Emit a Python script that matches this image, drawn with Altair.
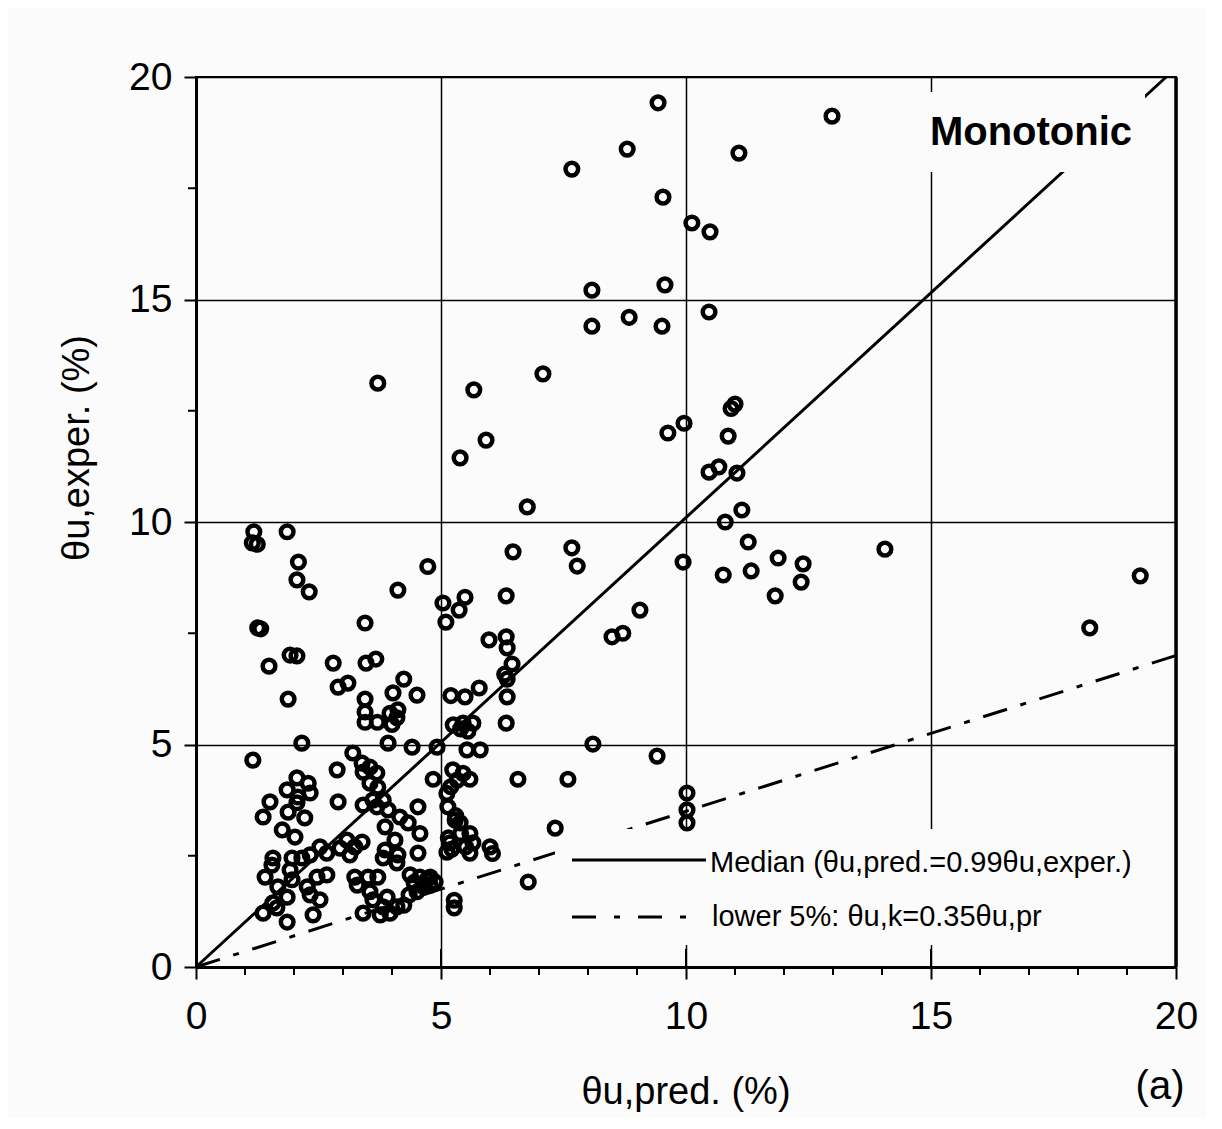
import altair as alt
import pandas as pd

# ---- data (theta_u,pred , theta_u,exper in %) ----
pred = [
    9.43, 12.98, 8.80, 7.67, 11.08, 9.53, 10.12, 10.49, 8.08, 9.57, 8.08, 8.84, 9.51, 10.47, 7.08,
    10.92, 11.00, 9.96, 9.63, 10.86, 10.47, 10.67, 11.04, 3.71, 5.67, 5.92, 5.39, 6.76,
    11.14, 10.80, 11.27, 9.94, 14.06, 11.88, 12.39, 10.76, 11.33, 12.35, 11.82, 19.27, 18.24,
    7.67, 7.78, 6.47, 6.33, 9.06, 8.49, 8.71, 8.10, 9.41, 10.02, 10.02, 10.02, 6.57, 7.59, 7.33, 6.78,
    1.18, 1.15, 1.25, 1.86, 2.09, 2.06, 2.31, 4.73, 4.12, 5.04, 5.49, 5.37, 5.10, 1.26, 1.32, 3.45,
    1.92, 2.06, 1.49, 2.80, 3.47, 3.67, 2.90, 3.10, 1.88, 4.24, 4.02, 4.51, 3.45, 3.45, 3.45, 3.70,
    3.96, 4.10, 4.12, 4.00, 2.16, 3.92, 4.41, 4.92,
    5.20, 5.49, 5.78, 5.98, 6.33, 6.35, 6.45, 6.35, 6.30, 6.35, 6.33, 5.25, 5.45, 5.65, 5.40, 5.55,
    5.53, 5.80,
    4.84, 5.59, 5.24, 5.33, 5.12, 5.45, 5.20, 5.14, 5.29, 5.39, 5.59, 5.65, 5.18, 5.12, 5.59, 6.00,
    6.05, 5.30, 5.40, 5.15, 5.50, 5.22, 4.53, 4.57, 4.53, 4.33, 4.57, 4.78, 5.27, 5.27,
    1.16, 3.20, 3.39, 3.55, 3.69, 3.41, 2.88, 2.06, 2.29, 1.86, 2.33, 2.08, 2.06, 1.51, 1.37, 1.88,
    2.22, 1.76, 2.02, 2.90, 3.41, 3.61, 3.82, 3.92, 3.69, 3.55, 3.71, 3.86, 4.16, 4.06, 3.86, 4.12,
    3.82, 4.10, 3.08, 3.24, 3.39, 2.94, 3.14, 2.53, 2.67, 2.33, 2.16, 1.96, 1.57, 1.55, 1.41, 1.92,
    1.96, 1.67, 1.86, 2.27, 2.33, 2.53, 2.47, 2.67, 1.65, 1.37, 1.57, 1.86, 2.39, 3.24, 3.51, 3.71,
    3.29, 3.55, 3.41, 3.61, 3.90, 3.96, 4.10, 3.82, 3.76, 4.35, 4.51, 4.45, 4.71, 4.65, 4.24, 4.37,
    4.78, 4.88,
]
exper = [
    19.42, 19.12, 18.38, 17.93, 18.29, 17.30, 16.72, 16.52, 15.21, 15.33, 14.40, 14.60, 14.40, 14.72, 13.33,
    12.55, 12.65, 12.22, 12.00, 11.93, 11.12, 11.24, 11.10, 13.12, 12.97, 11.84, 11.44, 10.34,
    10.27, 10.00, 9.55, 9.10, 9.39, 9.19, 9.06, 8.81, 8.90, 8.65, 8.34, 8.79, 7.62,
    9.42, 9.01, 9.33, 8.34, 8.02, 7.42, 7.50, 5.01, 4.74, 3.91, 3.53, 3.24, 4.22, 4.22, 3.12, 1.91,
    9.78, 9.53, 9.50, 9.78, 9.10, 8.70, 8.43, 9.00, 8.47, 8.18, 8.31, 8.02, 7.75, 7.62, 7.60, 7.73,
    7.01, 6.99, 6.76, 6.83, 6.83, 6.92, 6.29, 6.38, 6.02, 6.47, 6.16, 6.11, 6.02, 5.73, 5.50, 5.50,
    5.70, 5.60, 5.78, 5.45, 5.03, 5.03, 4.94, 4.94,
    6.10, 6.07, 6.27, 7.35, 7.42, 7.17, 6.81, 6.47, 6.58, 6.07, 5.48, 5.44, 5.48, 5.48, 5.35, 5.30,
    4.88, 4.88,
    4.22, 4.22, 4.43, 4.20, 3.90, 4.35, 4.05, 3.60, 3.30, 3.24, 3.00, 2.79, 2.79, 2.58, 2.56, 2.70,
    2.55, 3.40, 3.00, 2.90, 2.70, 2.65, 3.60, 3.00, 2.56, 3.24, 2.02, 2.02, 1.50, 1.33,
    4.65, 4.81, 4.58, 4.49, 4.36, 4.38, 4.43, 4.25, 4.13, 3.98, 3.91, 3.82, 3.69, 3.71, 3.37, 3.48,
    3.35, 3.08, 2.92, 3.71, 3.64, 3.75, 3.75, 3.53, 3.60, 4.13, 4.04, 3.15, 3.37, 2.85, 2.63, 2.52,
    2.45, 2.34, 2.85, 2.70, 2.81, 2.67, 2.52, 2.70, 2.56, 2.52, 2.45, 2.45, 2.45, 2.29, 2.02, 2.18,
    1.96, 1.80, 1.57, 1.80, 1.62, 1.51, 2.02, 2.07, 1.33, 1.21, 1.44, 1.01, 1.17, 2.02, 2.02, 2.02,
    1.84, 1.69, 1.21, 1.51, 1.57, 1.21, 1.35, 1.35, 1.17, 1.62, 1.69, 1.90, 1.96, 1.80, 1.39, 2.07,
    1.84, 1.91,
]

median_x = [0, 19.8]
median_y = [0, 20]
lower_x = [0, 20]
lower_y = [0, 7.0]

major_ticks = [0, 5, 10, 15, 20]
x_minor = [1, 2, 3, 4, 6, 7, 8, 9, 11, 12, 13, 14, 16, 17, 18, 19]
x_inner = [5, 10, 15]
y_minor = [2.5, 7.5, 12.5, 17.5]

x_title = "θu,pred. (%)"
y_title = "θu,exper. (%)"
panel_label = "(a)"
case_label = "Monotonic"
legend_labels = ["Median (θu,pred.=0.99θu,exper.)", "lower 5%: θu,k=0.35θu,pr"]

FONT = "Liberation Sans"
BG = "#fbfbfb"
W, H = 980, 890

pts = pd.DataFrame({"x": pred, "y": exper})
med = pd.DataFrame({"x": median_x, "y": median_y})
low = pd.DataFrame({"x": lower_x, "y": lower_y})
one = pd.DataFrame({"d": [0]})

sc = alt.Scale(domain=[0, 20], nice=False, zero=False)
axis_common = dict(
    values=major_ticks, format="d", labelFont=FONT, labelFontSize=39, labelColor="black",
    labelFlush=False, labelOverlap=False, tickSize=12, tickWidth=2, tickColor="black",
    domainWidth=3, domainColor="black", grid=True, gridColor="black", gridWidth=1.5,
    gridOpacity=1, title=None,
)
X = alt.X("x:Q", scale=sc, axis=alt.Axis(labelPadding=18, **axis_common))
Y = alt.Y("y:Q", scale=sc, axis=alt.Axis(labelPadding=12, **axis_common))

median_line = alt.Chart(med).mark_line(color="black", strokeWidth=3).encode(x=X, y=Y)
lower_line = alt.Chart(low).mark_line(color="black", strokeWidth=3, strokeDash=[25, 14, 6, 14]).encode(x=X, y=Y)

legend_box = alt.Chart(one).mark_rect(fill=BG, stroke=None).encode(
    x=alt.value(359), x2=alt.value(978), y=alt.value(752), y2=alt.value(868))
mono_box = alt.Chart(one).mark_rect(fill=BG, stroke=None).encode(
    x=alt.value(716), x2=alt.value(949), y=alt.value(15), y2=alt.value(95))

points = alt.Chart(pts).mark_point(
    shape="circle", filled=False, size=160, strokeWidth=4.5, color="black", opacity=1
).encode(x=X, y=Y)

xminor = alt.Chart(pd.DataFrame({"x": x_minor})).mark_rule(color="black", strokeWidth=2).encode(
    x=X, y=alt.value(H), y2=alt.value(H + 8))
xinner = alt.Chart(pd.DataFrame({"x": x_inner})).mark_rule(color="black", strokeWidth=2).encode(
    x=X, y=alt.value(H - 18), y2=alt.value(H))
yminor = alt.Chart(pd.DataFrame({"y": y_minor})).mark_rule(color="black", strokeWidth=2).encode(
    y=Y, x=alt.value(-8), x2=alt.value(0))
right_border = alt.Chart(one).mark_rule(color="black", strokeWidth=3.5).encode(
    x=alt.value(W), y=alt.value(0), y2=alt.value(H))

leg_solid = alt.Chart(one).mark_rule(color="black", strokeWidth=3).encode(
    x=alt.value(376), x2=alt.value(510), y=alt.value(783))
leg_dash = alt.Chart(one).mark_rule(color="black", strokeWidth=3, strokeDash=[24, 18, 6, 18]).encode(
    x=alt.value(376), x2=alt.value(506), y=alt.value(840))

def txt(s, x, y, size, **kw):
    return alt.Chart(one).mark_text(text=s, font=FONT, fontSize=size, color="black", **kw).encode(
        x=alt.value(x), y=alt.value(y))

leg_t1 = txt(legend_labels[0], 514, 786, 29, align="left", baseline="middle")
leg_t2 = txt(legend_labels[1], 516, 840, 29, align="left", baseline="middle")
mono_t = txt(case_label, 835, 56, 40, align="center", baseline="middle", fontWeight="bold")
xt = txt(x_title, 490, 1016, 38, align="center", baseline="middle")
yt = txt(y_title, -118, 371, 38, align="center", baseline="middle", angle=270)
at = txt(panel_label, 964, 1010, 40, align="center", baseline="middle")

chart = alt.layer(
    median_line, lower_line, legend_box, mono_box, points,
    xminor, xinner, yminor, right_border,
    leg_solid, leg_dash, leg_t1, leg_t2, mono_t, xt, yt, at,
).properties(
    width=W, height=H,
    autosize=alt.AutoSizeParams(type="none"),
    padding={"left": 188, "top": 69, "right": 30, "bottom": 150},
    background=BG,
).configure_view(stroke="black", strokeWidth=2)

chart.save("out.html", embed_options={"renderer": "svg", "actions": False})
